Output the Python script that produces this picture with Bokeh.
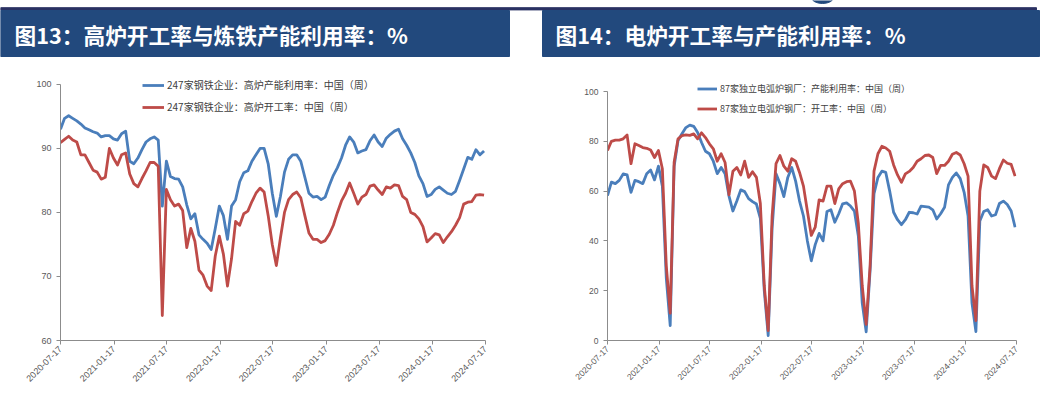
import pandas as pd
from math import pi
from bokeh.plotting import figure
from bokeh.models import Range1d, FixedTicker, DatetimeTickFormatter, Legend, LegendItem
from bokeh.layouts import column, row
from bokeh.core.properties import value
from bokeh.embed import file_html
from bokeh.resources import INLINE

# ---------------- data (every second week) ----------------
dates = pd.date_range("2020-07-17", periods=105, freq="14D")

tick_labels = ["2020-07-17", "2021-01-17", "2021-07-17", "2022-01-17", "2022-07-17",
               "2023-01-17", "2023-07-17", "2024-01-17", "2024-07-17"]

titles = ["图13：高炉开工率与炼铁产能利用率：%", "图14：电炉开工率与产能利用率：%"]

bf_names = ["247家钢铁企业：高炉产能利用率：中国（周）", "247家钢铁企业：高炉开工率：中国（周）"]
eaf_names = ["87家独立电弧炉钢厂：产能利用率：中国（周）", "87家独立电弧炉钢厂：开工率：中国（周）"]

bf_util = [93.0, 94.7, 95.1, 94.7, 94.3, 93.8, 93.2, 92.9, 92.6, 92.4,
           91.8, 92.0, 92.0, 91.5, 91.3, 92.3, 92.7, 88.0, 87.6, 88.5,
           89.8, 91.0, 91.5, 91.8, 91.3, 81.0, 88.0, 85.6, 85.3, 85.2,
           84.0, 81.2, 79.0, 79.8, 76.5, 75.8, 75.2, 74.2, 77.5, 81.0,
           79.5, 75.8, 81.0, 82.0, 84.8, 86.2, 86.5, 88.0, 89.0, 90.0,
           90.0, 87.6, 83.0, 79.4, 82.5, 86.3, 88.3, 89.0, 89.0, 88.0,
           85.5, 83.0, 82.4, 82.5, 82.0, 82.4, 84.2, 85.8, 87.0, 88.5,
           90.5, 91.8, 91.0, 89.3, 89.6, 89.8, 91.2, 92.1, 91.0, 90.3,
           91.6, 92.2, 92.7, 93.0, 91.5, 90.5, 89.3, 87.8, 85.7, 84.5,
           82.5, 82.8, 83.6, 84.0, 83.5, 83.0, 82.8, 83.3, 85.0, 86.8,
           88.6, 88.3, 89.8, 89.0, 89.6]

bf_rate = [90.9, 91.4, 91.9, 91.3, 91.0, 89.0, 89.0, 87.8, 86.6, 86.3,
           85.2, 85.5, 90.0, 88.5, 87.4, 89.0, 89.3, 86.0, 84.5, 84.0,
           85.3, 86.5, 87.8, 87.8, 87.2, 63.9, 83.6, 82.0, 81.0, 81.3,
           80.3, 74.5, 77.5, 75.5, 71.0, 70.2, 68.5, 67.8, 73.2, 76.3,
           73.5, 68.5, 72.8, 78.6, 78.0, 79.8, 80.2, 81.7, 83.0, 83.8,
           83.2, 79.5, 75.0, 71.7, 76.0, 80.0, 82.0, 82.8, 83.2, 82.3,
           79.5, 76.8, 75.8, 75.8, 75.3, 75.6, 76.6, 78.0, 80.0, 81.8,
           83.0, 84.6, 83.0, 81.3, 82.4, 82.8, 84.1, 84.3, 83.5, 82.8,
           84.0, 83.8, 84.3, 84.2, 82.5, 82.0, 80.0, 79.7, 79.0, 77.8,
           75.4, 76.0, 76.7, 76.5, 75.3, 76.2, 77.0, 78.0, 79.2, 81.3,
           81.6, 81.7, 82.7, 82.8, 82.7]

eaf_util = [58.2, 63.6, 63.0, 64.3, 66.9, 66.5, 59.5, 64.3, 63.8, 63.0,
            67.0, 68.5, 64.5, 70.0, 62.0, 25.0, 6.0, 70.0, 80.3, 83.0,
            85.5, 86.5, 86.0, 83.5, 79.5, 76.0, 75.0, 72.0, 67.0, 69.5,
            67.0, 58.0, 52.0, 56.0, 60.5, 59.8, 57.0, 55.8, 54.8, 49.0,
            20.0, 2.0, 45.0, 67.0, 63.0, 57.8, 65.5, 69.5, 64.0, 56.0,
            50.0, 40.0, 32.0, 38.5, 43.0, 40.0, 51.8, 52.5, 47.5, 50.9,
            54.9, 55.3, 54.0, 52.0, 42.0, 15.0, 3.5, 28.0, 59.0, 65.5,
            68.0, 67.5, 60.0, 51.5, 48.5, 46.5, 48.5, 51.5, 51.3, 50.8,
            54.0, 53.8, 53.6, 52.5, 48.8, 50.9, 53.5, 62.5, 65.5, 67.3,
            65.0, 59.5, 50.0, 15.0, 3.6, 48.0, 51.8, 52.5, 50.0, 50.5,
            55.0, 56.0, 54.6, 52.0, 45.5]

eaf_rate = [76.3, 80.0, 80.5, 80.5, 81.0, 82.5, 71.0, 79.0, 78.3, 77.5,
            77.2, 76.5, 73.5, 76.3, 69.0, 30.0, 11.0, 71.6, 81.0, 82.3,
            82.6, 82.4, 83.0, 81.0, 83.4, 81.5, 79.0, 77.0, 72.0, 75.0,
            71.5, 58.5, 68.0, 69.5, 66.5, 72.0, 65.5, 67.8, 65.5, 55.0,
            22.0, 4.0, 50.0, 71.0, 74.3, 70.0, 68.0, 73.0, 72.0, 67.5,
            62.0, 52.0, 42.2, 45.5, 56.5, 56.0, 62.0, 62.0, 55.0, 60.9,
            63.0, 63.8, 64.0, 60.0, 47.0, 22.0, 6.5, 30.0, 68.0, 75.0,
            78.0, 77.3, 76.0, 70.5, 66.5, 63.5, 66.9, 67.9, 69.5, 72.0,
            73.0, 74.3, 74.5, 73.5, 67.0, 70.3, 70.3, 72.0, 74.8, 75.5,
            74.5, 71.0, 66.0, 22.0, 8.0, 60.0, 70.5, 69.5, 66.0, 65.0,
            69.0, 72.5, 71.2, 70.7, 66.0]

bf_yticks = [60, 70, 80, 90, 100]
eaf_yticks = [0, 20, 40, 60, 80, 100]

# ---------------- styling ----------------
BLUE = "#4A7EBB"
RED = "#BE4B48"
NAVY = "#22497D"
AXIS = "#8C8C8C"
LABEL = "#595959"
CJK = "Noto Sans CJK SC"

tick_ms = [pd.Timestamp(s).value // 10**6 for s in tick_labels]
fmt = "%Y-%m-%d"


def make_chart(width, height, y_lo, y_top, yticks, ml, mr, mt, mb,
               s1, s2, names, lab_px, leg_px, leg_x, leg_y, glyph_w, item_h, item_sp):
    p = figure(width=width, height=height, x_axis_type="datetime",
               x_range=Range1d(pd.Timestamp(tick_labels[0]), pd.Timestamp(tick_labels[-1])),
               y_range=Range1d(y_lo, y_top),
               toolbar_location=None, output_backend="svg",
               min_border_left=ml, min_border_right=mr,
               min_border_top=mt, min_border_bottom=mb)
    p.outline_line_color = None
    p.grid.visible = False
    p.background_fill_color = "white"
    p.border_fill_color = "white"

    r1 = p.line(dates, s1, line_color=BLUE, line_width=2.8, line_join="round")
    r2 = p.line(dates, s2, line_color=RED, line_width=2.8, line_join="round")

    xa = p.xaxis[0]
    xa.ticker = FixedTicker(ticks=tick_ms)
    xa.formatter = DatetimeTickFormatter(microseconds=fmt, milliseconds=fmt, seconds=fmt,
                                         minsec=fmt, minutes=fmt, hourmin=fmt, hours=fmt,
                                         days=fmt, months=fmt, years=fmt)
    xa.major_label_orientation = pi / 4
    ya = p.yaxis[0]
    ya.ticker = FixedTicker(ticks=yticks)
    ya.bounds = (yticks[0], yticks[-1])
    for ax in (xa, ya):
        ax.axis_line_color = AXIS
        ax.major_tick_line_color = AXIS
        ax.minor_tick_line_color = None
        ax.major_tick_out = 4
        ax.major_tick_in = 0
        ax.major_label_text_font = "Liberation Sans"
        ax.major_label_text_font_size = lab_px
        ax.major_label_text_color = LABEL
    xa.major_label_standoff = 3
    ya.major_label_standoff = 5

    leg = Legend(items=[LegendItem(label=names[0], renderers=[r1]),
                        LegendItem(label=names[1], renderers=[r2])],
                 location=(leg_x, leg_y), orientation="vertical",
                 label_text_font=CJK, label_text_font_size=leg_px,
                 label_text_color="#404040",
                 glyph_width=glyph_w, glyph_height=item_h, label_height=item_h,
                 spacing=item_sp, label_standoff=3, padding=0, margin=0,
                 background_fill_alpha=0, border_line_color=None)
    p.add_layout(leg)
    return p


# left: frame 60..485 (x), page y 70..342 ; 6.45 px per unit -> top = 60 + 272/6.45
left = make_chart(529, 347, 60, 60 + 272 / 6.45, bf_yticks, 60, 44, 10, 65,
                  bf_util, bf_rate, bf_names, "9px", "10px", 82, 226, 22, 14, 7)
# right: frame 607..1016 (x), page y 70..340 ; 2.49 px per unit -> top = 270/2.49
right = make_chart(528, 347, 0, 270 / 2.49, eaf_yticks, 78, 41, 10, 67,
                   eaf_util, eaf_rate, eaf_names, "8.5px", "9px", 90, 225, 20, 13, 7)

# ---------------- header banner ----------------
hdr = figure(width=1057, height=60, x_range=Range1d(0, 1057), y_range=Range1d(60, 0),
             toolbar_location=None, output_backend="svg",
             x_axis_location=None, y_axis_location=None, min_border=0)
hdr.outline_line_color = None
hdr.grid.visible = False
hdr.background_fill_color = "white"
hdr.border_fill_color = "white"
hdr.ellipse(x=[822], y=[-3], width=22, height=12, color=NAVY)
hdr.quad(left=[0], right=[1036], top=[7.2], bottom=[9.4], color="#2B3263")
hdr.quad(left=[0, 542], right=[509, 1039], top=[10, 10], bottom=[56, 56], color=NAVY)
hdr.text(x=[14, 555], y=[34, 34], text=titles, text_font=value(CJK),
         text_font_style="bold", text_font_size="21.7px", text_color="white",
         text_baseline="middle", text_align="left")

layout = column(hdr, row(left, right))
open("out.html", "w").write(file_html(layout, INLINE))
